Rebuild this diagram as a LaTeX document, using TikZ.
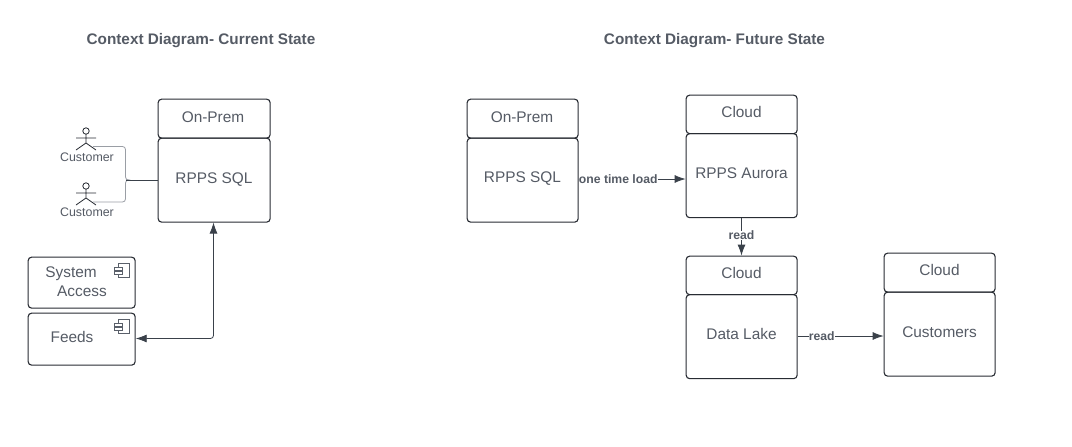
\documentclass[tikz,border=0pt]{standalone}
\usepackage{fontspec}
\setmainfont{Liberation Sans}
\usetikzlibrary{arrows.meta}
\definecolor{ln}{HTML}{282C33}
\definecolor{tx}{HTML}{555B65}
\definecolor{cn}{HTML}{3A414A}
\definecolor{gl}{HTML}{9A9EA5}
\definecolor{ic}{HTML}{5A606A}
\tikzset{
 x=1pt,y=-1pt,
 boxn/.style={draw=ln,line width=1.1pt,rounded corners=3.5pt,inner sep=0pt,xshift=-0.4pt,yshift=0.4pt},
 txt/.style={text=tx,font=\fontsize{15.4}{18.5}\selectfont,align=center,inner sep=0pt},
 ttl/.style={text=tx,font=\bfseries\fontsize{15.3}{17}\selectfont,inner sep=0pt},
 cust/.style={text=tx,font=\fontsize{12.4}{15}\selectfont,inner sep=0pt},
 lab/.style={text=tx,font=\bfseries\fontsize{12.2}{14}\selectfont,inner sep=0pt,fill=white},
 tipa/.tip={Latex[length=11pt,width=8pt]},
 conn/.style={draw=cn,line width=0.8pt,-tipa},
 actor/.style={draw=ln,line width=0.8pt},
 comp/.style={draw=ic,line width=0.55pt},
}
\newcommand{\actorat}[2]{%
 \draw[actor] (#1,#2-7) circle (3.2);
 \draw[actor] (#1,#2-3.8) -- (#1,#2+5) (#1-10,#2) -- (#1+10,#2) (#1-10,#2+12) -- (#1,#2+5) -- (#1+10,#2+12);}
\newcommand{\compat}[2]{%
 \draw[comp] (#1-3.5,#2-7) -- (#1+7,#2-7) -- (#1+7,#2+7) -- (#1-3.5,#2+7) -- cycle;
 \draw[comp,fill=white] (#1-7.5,#2-3.5) rectangle (#1,#2-0.7);
 \draw[comp,fill=white] (#1-7.5,#2+1) rectangle (#1,#2+3.8);}
\begin{document}
\begin{tikzpicture}
\useasboundingbox (0,0) rectangle (1072,447);
\fill[white] (0,0) rectangle (1072,447);
\node[ttl] (t1) at (201,41) {Context Diagram- Current State};
\node[ttl] (t2) at (714.5,41) {Context Diagram- Future State};
% left
\node[boxn,minimum width=112pt,minimum height=39pt,anchor=north west] (a) at (158,99) {};
\node[boxn,minimum width=112pt,minimum height=84pt,anchor=north west] (b) at (158,138) {};
\node[txt] at (213,116.7) {On-Prem};
\node[txt] at (214,179.5) {RPPS SQL};
\actorat{86}{138}
\actorat{86}{193}
\node[cust] at (87,157) {Customer};
\node[cust] at (87,212.5) {Customer};
\coordinate (c1) at (93,146.5);
\coordinate (c2) at (93,202);
\coordinate (cm) at (126,180);
\draw[gl,line width=0.8pt,rounded corners=3pt] (c1) -- (125.5,146.5) -- (125.5,180) -- (cm);
\draw[gl,line width=0.8pt,rounded corners=3pt] (c2) -- (125.5,202) -- (125.5,180) -- (cm);
\draw[cn,line width=0.8pt] (cm) -- (b.west |- cm);
\node[boxn,minimum width=107pt,minimum height=51pt,anchor=north west] (s) at (28,257) {};
\node[boxn,minimum width=107pt,minimum height=52pt,anchor=north west] (f) at (28,313) {};
\node[txt] at (71,273.3) {System};
\node[txt] at (82,291) {Access};
\node[txt] at (72,336.5) {Feeds};
\compat{122}{270.5}
\compat{122}{326.5}
\draw[draw=cn,line width=0.8pt,tipa-tipa,rounded corners=3pt] (f.east |- 0,338.5) -- (213.5,338.5) -- (213.5,222.5);
% right
\node[boxn,minimum width=111pt,minimum height=39pt,anchor=north west] (c) at (467,99) {};
\node[boxn,minimum width=111pt,minimum height=84pt,anchor=north west] (d) at (467,138) {};
\node[txt] at (522,116.7) {On-Prem};
\node[txt] at (522.5,179) {RPPS SQL};
\node[boxn,minimum width=111pt,minimum height=38.5pt,anchor=north west] (e) at (686,95) {};
\node[boxn,minimum width=111pt,minimum height=84pt,anchor=north west] (g) at (686,133.5) {};
\node[txt] at (741.5,112) {Cloud};
\node[txt] at (741.5,173.5) {RPPS Aurora};
\node[boxn,minimum width=111pt,minimum height=38.5pt,anchor=north west] (h) at (686,256) {};
\node[boxn,minimum width=111pt,minimum height=84pt,anchor=north west] (i) at (686,294.5) {};
\node[txt] at (741.5,273) {Cloud};
\node[txt] at (741.5,334) {Data Lake};
\node[boxn,minimum width=111pt,minimum height=39pt,anchor=north west] (j) at (884,253) {};
\node[boxn,minimum width=111pt,minimum height=84pt,anchor=north west] (k) at (884,292) {};
\node[txt] at (939.5,270.3) {Cloud};
\node[txt] at (939.5,332) {Customers};
\draw[conn] (d.east |- 0,179) -- (g.west |- 0,179) node[lab,pos=0.37] {one time load};
\draw[conn] (g.south -| 741.5,0) -- (h.north -| 741.5,0) node[lab,pos=0.45] {read};
\draw[conn] (i.east |- 0,336) -- (k.west |- 0,336) node[lab,pos=0.28] {read};
\end{tikzpicture}
\end{document}
